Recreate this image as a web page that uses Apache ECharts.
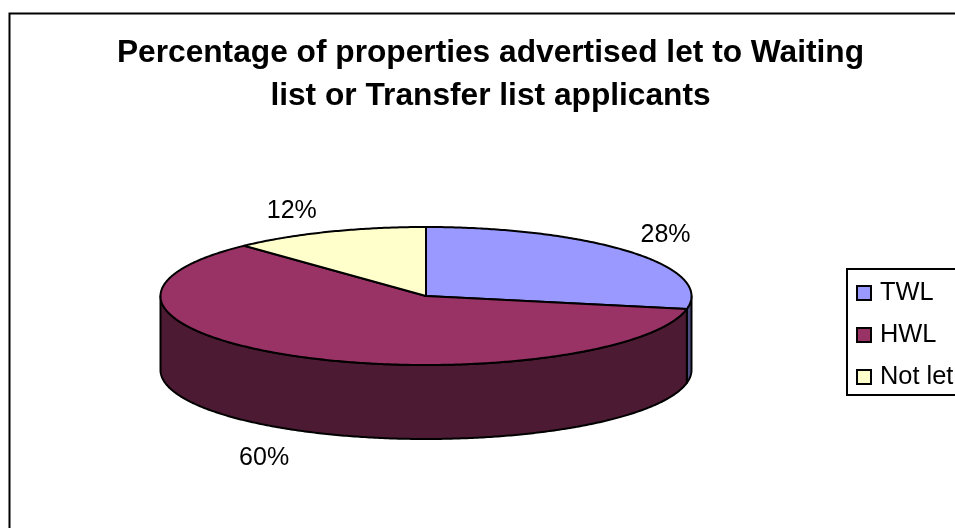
<!DOCTYPE html>
<html>
<head>
<meta charset="utf-8">
<style>html,body{margin:0;padding:0;background:#fff}#chart{width:955px;height:528px}</style>
<script src="https://cdn.jsdelivr.net/npm/echarts@6/dist/echarts.min.js"></script>
</head>
<body>
<div id="chart"></div>
<script>
// Share of advertised properties per outcome, in percent
const categories = ['TWL', 'HWL', 'Not let'];
const shares = [28, 60, 12];
const topColors = ['#9999ff', '#993366', '#ffffcc'];
const sideColors = ['#4d4d80', '#4d1a33', '#80806a'];
const titleLines = ['Percentage of properties advertised let to Waiting', 'list or Transfer list applicants'];

// Tilted pie geometry: the disc is an ellipse with a visible rim below it
const disc = { cx: 426, cy: 296, rx: 265.5, ry: 69, depth: 74 };
const FONT = '"Liberation Sans", Arial, sans-serif';
const total = shares.reduce((a, b) => a + b, 0);

// Angles are measured clockwise from twelve o'clock, in radians
function rimPoint(angle, drop) {
  return [
    disc.cx + disc.rx * Math.sin(angle),
    disc.cy - disc.ry * Math.cos(angle) + (drop || 0)
  ];
}

function arcPoints(from, to, drop) {
  const steps = Math.max(2, Math.ceil(Math.abs(to - from) / 0.01));
  const pts = [];
  for (let i = 0; i <= steps; i++) {
    pts.push(rimPoint(from + (to - from) * i / steps, drop));
  }
  return pts;
}

function renderSlice(params, api) {
  const index = params.seriesIndex;
  const before = shares.slice(0, index).reduce((a, b) => a + b, 0);
  const start = before / total * 2 * Math.PI;
  const end = (before + api.value(0)) / total * 2 * Math.PI;
  const mid = (start + end) / 2;
  const stroke = { stroke: '#000', lineWidth: 2, lineJoin: 'round' };
  const children = [];

  // Only the front half of the rim, from 3 o'clock to 9 o'clock, can be seen
  const sideFrom = Math.max(start, Math.PI / 2);
  const sideTo = Math.min(end, 3 * Math.PI / 2);
  if (sideTo > sideFrom) {
    const upper = arcPoints(sideFrom, sideTo, 0);
    const lower = arcPoints(sideTo, sideFrom, disc.depth);
    children.push({
      type: 'polygon',
      shape: { points: upper.concat(lower) },
      style: Object.assign({ fill: sideColors[index] }, stroke)
    });
  }

  children.push({
    type: 'polygon',
    shape: { points: [[disc.cx, disc.cy]].concat(arcPoints(start, end, 0)) },
    style: Object.assign({ fill: topColors[index] }, stroke)
  });

  // The value label sits just outside the slice, below the rim for front slices
  const anchor = rimPoint(mid, 0);
  const front = Math.cos(mid) < 0;
  children.push({
    type: 'text',
    z2: 10,
    style: {
      x: anchor[0] + (Math.sin(mid) >= 0 ? 35 : (front ? -34 : -36.5)),
      y: anchor[1] + (front ? disc.depth + 28 : -(9 + 13 * Math.cos(mid))),
      text: api.value(0) + '%',
      font: '25px ' + FONT,
      fill: '#000',
      align: 'center',
      verticalAlign: 'middle'
    }
  });

  return { type: 'group', children: children };
}

const chart = echarts.init(document.getElementById('chart'), null, { renderer: 'canvas' });
chart.setOption({
  animation: false,
  backgroundColor: '#ffffff',
  title: {
    text: titleLines.join('\n'),
    left: 490.5,
    top: 32,
    textAlign: 'center',
    padding: 0,
    textStyle: {
      fontFamily: FONT,
      fontWeight: 'bold',
      fontSize: 31.7,
      lineHeight: 43,
      color: '#000'
    }
  },
  legend: {
    data: categories,
    orient: 'vertical',
    left: 847,
    top: 269,
    padding: [10, 40, 4, 9],
    itemWidth: 14,
    itemHeight: 14,
    itemGap: 14,
    icon: 'rect',
    selectedMode: false,
    backgroundColor: '#fff',
    borderColor: '#000',
    borderWidth: 2,
    borderRadius: 0,
    itemStyle: { borderColor: '#000', borderWidth: 2 },
    textStyle: { fontFamily: FONT, fontSize: 25.4, color: '#000', padding: [0, 0, 0, 4], lineHeight: 28 }
  },
  graphic: [{
    type: 'rect',
    silent: true,
    shape: { x: 9.5, y: 13.5, width: 1200, height: 800 },
    style: { fill: 'none', stroke: '#000', lineWidth: 2 }
  }],
  series: categories.map((name, i) => ({
    name: name,
    type: 'custom',
    coordinateSystem: 'none',
    renderItem: renderSlice,
    itemStyle: { color: topColors[i] },
    data: [[shares[i]]],
    z: 2
  }))
});
</script>
</body>
</html>
